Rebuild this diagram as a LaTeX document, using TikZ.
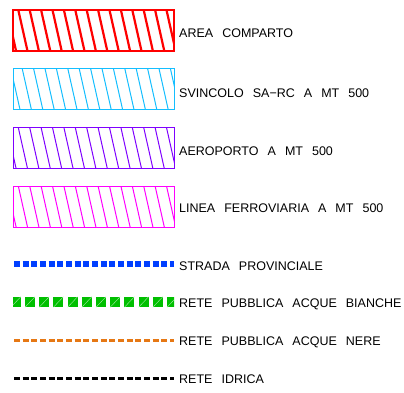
\documentclass[tikz,border=0pt]{standalone}
\usepackage{fontspec}
\setmainfont{Liberation Sans}[WordSpace=2.6]
\definecolor{areared}{RGB}{255,0,0}
\definecolor{svincolo}{RGB}{20,190,255}
\definecolor{aeroporto}{RGB}{127,0,255}
\definecolor{ferrovia}{RGB}{255,0,255}
\definecolor{strada}{RGB}{0,63,255}
\definecolor{bianche}{RGB}{0,191,0}
\definecolor{nere}{RGB}{230,120,20}
\begin{document}
\begin{tikzpicture}[x=1pt,y=-1pt,
	legtext/.style={anchor=base west,inner sep=0pt,font=\fontsize{12.5}{14}\selectfont},
	dotline/.style={line width=6pt,dash pattern=on 6pt off 2.67pt}]
\useasboundingbox (0,0) rectangle (404,393);
% campiture tratteggiate
\foreach \col/\yt/\xo/\lw in {areared/10/18.3/2.2, svincolo/69/22.3/1, aeroporto/127.5/18.3/1, ferrovia/186/18.3/1}{
	\begin{scope}
	\clip (13,\yt) rectangle (174,\yt+41);
	\foreach \k in {-1,...,14}
		\draw[\col,line width=\lw pt] ({\xo+11.4*\k},\yt) -- ++(9.2,41);
	\end{scope}
	\draw[\col,line width=\lw pt] (13,\yt) rectangle (174,\yt+41);
}
% linee
\draw[strada,dotline](14,264)--(174,264);
\begin{scope}
	\clip (13,290) rectangle (174,315);
	\foreach \k in {0,...,11}{
		\fill[bianche] ({10.8+14.2*\k},296.7) rectangle ++(10,10.6);
		\draw[bianche!35!white,line width=0.4pt] ({10.8+14.2*\k},307.3) -- ++(10,-10.6);
	}
\end{scope}
\draw[nere,dotline,line width=3pt](14,340.5)--(174,340.5);
\draw[black,dotline,line width=3pt](14,378.3)--(174,378.3);
% testi
\node[legtext] (tarea) at (179,37.3) {AREA COMPARTO};
\node[legtext] (tsvincolo) at (179,97.3) {SVINCOLO SA−RC A MT 500};
\node[legtext] (taeroporto) at (179,155) {AEROPORTO A MT 500};
\node[legtext] (tlinea) at (179,212.7) {LINEA FERROVIARIA A MT 500};
\node[legtext] (tstrada) at (179,270) {STRADA PROVINCIALE};
\node[legtext] (tbianche) at (179,307.3) {RETE PUBBLICA ACQUE BIANCHE};
\node[legtext] (tnere) at (179,345) {RETE PUBBLICA ACQUE NERE};
\node[legtext] (tidrica) at (179,383) {RETE IDRICA};
\end{tikzpicture}
\end{document}
